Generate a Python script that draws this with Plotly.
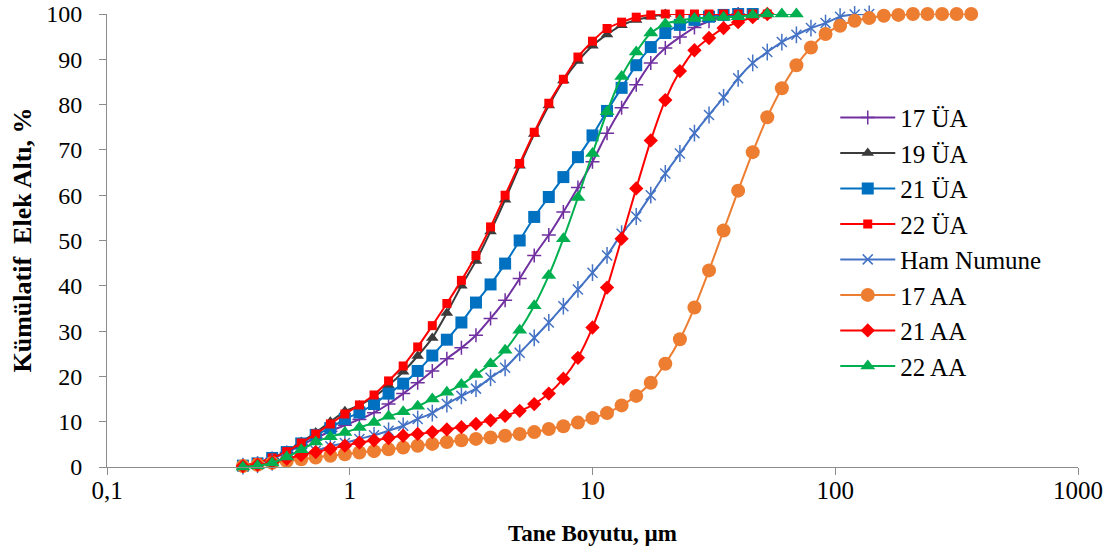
import plotly.graph_objects as go

# particle size classes (µm)
sizes = [0.363, 0.417, 0.479, 0.550, 0.631, 0.724, 0.832, 0.955, 1.096, 1.259,
         1.445, 1.660, 1.905, 2.188, 2.512, 2.884, 3.311, 3.802, 4.365, 5.012,
         5.754, 6.607, 7.586, 8.710, 10.00, 11.48, 13.18, 15.14, 17.38, 19.95,
         22.91, 26.30, 30.20, 34.67, 39.81, 45.71, 52.48, 60.26, 69.18, 79.43,
         91.20, 104.7, 120.2, 138.0, 158.5, 182.0, 208.9, 239.9, 275.4, 316.2, 363.1]

ua17 = [0.3, 0.8, 1.9, 3.2, 4.8, 6.4, 7.9, 9.2, 10.5, 12.0, 13.9, 16.2, 18.6, 21.2, 23.9,
        26.3, 29.1, 32.8, 36.8, 41.6, 46.7, 51.2, 56.3, 61.7, 67.4, 73.7, 79.3, 84.4, 89.2,
        92.5, 94.9, 97.0, 98.4, 99.4, 100]
ua19 = [0.3, 0.9, 2.0, 3.5, 5.5, 7.6, 10.0, 12.3, 13.6, 15.5, 18.0, 21.0, 24.5, 28.5, 34.0,
        40.0, 45.5, 52.0, 59.0, 66.5, 73.5, 79.8, 85.3, 89.6, 93.0, 95.5, 97.5, 98.7, 99.4, 100]
ua21 = [0.3, 0.8, 2.0, 3.3, 5.2, 7.1, 8.6, 10.6, 12.0, 13.9, 16.2, 18.4, 21.2, 24.6, 28.1,
        31.9, 36.3, 40.3, 44.9, 50.0, 55.2, 59.6, 64.0, 68.4, 73.2, 78.6, 83.7, 88.7, 92.7,
        95.8, 97.6, 98.7, 99.4, 99.8, 100, 100]
ua22 = [0.3, 1.0, 2.0, 3.4, 5.3, 7.3, 9.5, 11.7, 13.7, 15.9, 19.0, 22.3, 26.5, 31.2, 36.1,
        41.2, 46.7, 53.0, 60.0, 67.0, 73.9, 80.3, 85.6, 90.5, 94.0, 96.8, 98.2, 99.3, 99.8,
        100, 100, 100, 100, 100, 100, 100, 100]
ham = [0.2, 0.5, 1.0, 1.7, 2.6, 3.6, 4.6, 5.3, 6.2, 7.0, 8.0, 9.1, 10.6, 11.9, 13.9, 15.7,
       17.3, 19.7, 21.9, 25.2, 28.5, 31.9, 35.5, 39.2, 42.9, 46.7, 51.5, 55.3, 60.0, 64.8,
       69.2, 73.7, 77.7, 81.6, 85.8, 89.2, 91.6, 93.8, 95.4, 96.9, 98.0, 99.4, 99.9, 100]
aa17 = [0.2, 0.5, 0.9, 1.3, 1.7, 2.1, 2.5, 2.8, 3.2, 3.5, 3.9, 4.3, 4.7, 5.1, 5.5, 5.9, 6.2,
        6.5, 6.9, 7.3, 7.7, 8.4, 9.0, 9.8, 10.8, 11.9, 13.6, 15.7, 18.6, 22.8, 28.2, 35.2,
        43.4, 52.2, 61.0, 69.5, 77.2, 83.6, 88.7, 92.6, 95.6, 97.4, 98.5, 99.1, 99.6, 99.8,
        100, 100, 100, 100, 100]
aa21 = [0.2, 0.5, 1.0, 1.8, 2.6, 3.3, 4.0, 4.7, 5.4, 5.9, 6.4, 6.9, 7.3, 7.7, 8.3, 8.8, 9.5,
        10.3, 11.3, 12.4, 13.9, 16.2, 19.5, 24.1, 30.8, 39.6, 50.4, 61.5, 72.1, 81.0, 87.4,
        92.0, 94.7, 96.9, 98.2, 99.3, 100]
aa22 = [0, 0.3, 0.9, 2.2, 3.8, 5.5, 6.7, 7.6, 8.7, 9.8, 11.2, 12.2, 13.4, 15.0, 16.5, 18.2,
        20.4, 22.8, 25.8, 30.2, 35.6, 42.3, 50.4, 59.5, 69.2, 78.4, 86.2, 91.6, 95.8, 97.8,
        98.6, 99.0, 99.2, 99.3, 99.4, 99.8, 100, 100, 100]

xtickvals = [0.1, 1, 10, 100, 1000]
xticktext = ["0,1", "1", "10", "100", "1000"]

FONT = "Liberation Serif"
AXC = "#8c8c8c"

series = [
    ("17 ÜA", ua17, "#7030A0", "cross-thin-open", 10),
    ("19 ÜA", ua19, "#3b3b3b", "triangle-up", 11),
    ("21 ÜA", ua21, "#0070C0", "square", 12),
    ("22 ÜA", ua22, "#FF0000", "square", 9),
    ("Ham Numune", ham, "#4472C4", "x-thin-open", 10),
    ("17 AA", aa17, "#ED7D31", "circle", 14),
    ("21 AA", aa21, "#FF0000", "diamond", 11),
    ("22 AA", aa22, "#00B050", "triangle-up", 13),
]

fig = go.Figure()
for i, (name, vals, col, sym, sz) in enumerate(series):
    xs = sizes[:len(vals)]
    open_sym = sym.endswith("open")
    fig.add_trace(go.Scatter(
        x=xs, y=vals, name=name, mode="lines+markers",
        line=dict(color=col, width=2, shape="spline", smoothing=0.6),
        marker=dict(symbol=sym, size=sz, color=col,
                    line=dict(color=col, width=1.5 if open_sym else 0)),
        cliponaxis=False, legendgroup="g%d" % i,
    ))
    if name == "Ham Numune":
        fig.add_trace(go.Scatter(
            x=xs, y=vals, mode="markers", showlegend=False, legendgroup="g%d" % i,
            marker=dict(symbol="line-ns-open", size=12, color=col,
                        line=dict(color=col, width=1.5)),
            cliponaxis=False, hoverinfo="skip",
        ))

fig.update_xaxes(type="log", range=[-1, 3], tickvals=xtickvals, ticktext=xticktext,
                 ticks="outside", ticklen=7, tickcolor=AXC, showline=True, linecolor=AXC,
                 linewidth=1, showgrid=False, zeroline=False, automargin=False,
                 ticklabelstandoff=-6,
                 tickfont=dict(family=FONT, size=25, color="black"))
fig.update_yaxes(range=[0, 100], dtick=10, ticks="outside", ticklen=7, tickcolor=AXC,
                 showline=True, linecolor=AXC, linewidth=1, showgrid=False, zeroline=False,
                 ticklabelstandoff=12, automargin=False,
                 tickfont=dict(family=FONT, size=24, color="black"))

fig.update_layout(
    width=1110, height=553,
    margin=dict(l=107, r=32, t=14, b=86, autoexpand=False),
    plot_bgcolor="white", paper_bgcolor="white",
    font=dict(family=FONT, color="black"),
    legend=dict(x=0.75, y=0.822, xanchor="left", yanchor="top",
                font=dict(family=FONT, size=25, color="black"),
                traceorder="grouped", tracegroupgap=0, itemwidth=55,
                bgcolor="rgba(0,0,0,0)"),
    annotations=[
        dict(text="<b>Tane Boyutu, µm</b>", xref="paper", yref="paper", x=0.5, y=0,
             yshift=-66, showarrow=False, font=dict(family=FONT, size=23, color="black"),
             xanchor="center", yanchor="middle"),
        dict(text="<b>Kümülatif  Elek Altı, %</b>", xref="paper", yref="paper", x=0, y=0.5,
             xshift=-85, showarrow=False, textangle=-90,
             font=dict(family=FONT, size=26, color="black"),
             xanchor="center", yanchor="middle"),
    ],
)

fig.write_html("out.html")
